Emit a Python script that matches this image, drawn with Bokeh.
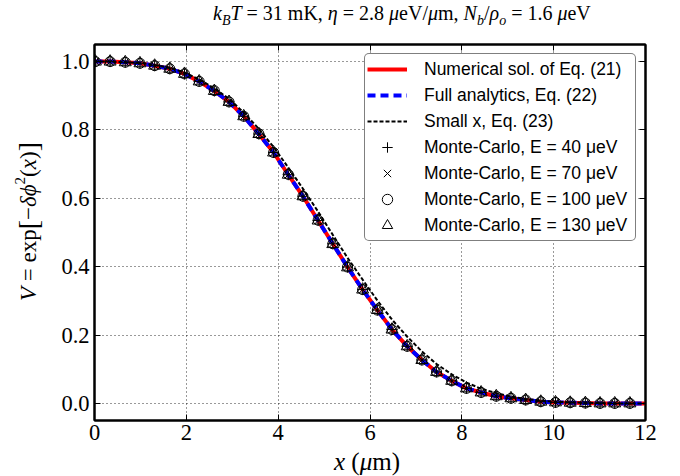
from bokeh.plotting import figure
from bokeh.models import Range1d, FixedTicker, LinearAxis, Div, PrintfTickFormatter
from bokeh.layouts import column, row
from bokeh.embed import file_html
from bokeh.resources import INLINE

# ---------------- data ----------------
x_mc = [0.02, 0.34, 0.67, 0.99, 1.31, 1.64, 1.96, 2.28, 2.61, 2.93,
        3.25, 3.58, 3.90, 4.22, 4.54, 4.87, 5.19, 5.51, 5.84, 6.16,
        6.48, 6.81, 7.13, 7.45, 7.78, 8.10, 8.42, 8.75, 9.07, 9.39,
        9.72, 10.04, 10.36, 10.69, 11.01, 11.33, 11.66]

mc_40 = [1.000, 1.000, 0.998, 0.995, 0.988, 0.979, 0.964, 0.942, 0.914, 0.882,
         0.840, 0.788, 0.734, 0.669, 0.606, 0.535, 0.467, 0.399, 0.333, 0.273,
         0.216, 0.167, 0.127, 0.092, 0.066, 0.044, 0.032, 0.021, 0.015, 0.010,
         0.005, 0.003, 0.002, 0.001, 0.000, 0.000, 0.000]
mc_70 = [1.000, 0.999, 0.998, 0.995, 0.988, 0.978, 0.964, 0.942, 0.914, 0.881,
         0.840, 0.788, 0.733, 0.669, 0.605, 0.535, 0.467, 0.399, 0.333, 0.273,
         0.216, 0.167, 0.127, 0.092, 0.066, 0.044, 0.032, 0.021, 0.015, 0.010,
         0.005, 0.003, 0.002, 0.001, 0.000, 0.000, 0.000]
mc_100 = [1.000, 1.000, 0.998, 0.995, 0.988, 0.979, 0.964, 0.942, 0.915, 0.882,
          0.840, 0.789, 0.734, 0.670, 0.606, 0.536, 0.467, 0.399, 0.333, 0.273,
          0.216, 0.167, 0.127, 0.092, 0.066, 0.044, 0.032, 0.021, 0.015, 0.010,
          0.005, 0.003, 0.002, 0.001, 0.000, 0.000, 0.000]
mc_130 = [1.000, 1.000, 0.998, 0.995, 0.988, 0.979, 0.964, 0.942, 0.914, 0.882,
          0.840, 0.788, 0.734, 0.669, 0.606, 0.535, 0.466, 0.398, 0.333, 0.273,
          0.216, 0.167, 0.127, 0.092, 0.066, 0.044, 0.032, 0.021, 0.015, 0.010,
          0.005, 0.003, 0.002, 0.001, 0.000, 0.000, 0.000]

num_x = [0.0] + x_mc[1:] + [12.0]
num_y = [1.0] + mc_40[1:] + [0.0]
full_x = [0.0] + x_mc[1:] + [12.0]
full_y = [1.0] + mc_40[1:] + [0.0]
small_x = [0.0] + x_mc[1:] + [12.0]
small_y = [1.000, 1.000, 0.998, 0.996, 0.990, 0.982, 0.968, 0.948, 0.922, 0.891,
           0.851, 0.803, 0.750, 0.690, 0.628, 0.561, 0.493, 0.426, 0.362, 0.301,
           0.245, 0.195, 0.152, 0.115, 0.085, 0.061, 0.043, 0.030, 0.020, 0.013,
           0.008, 0.005, 0.003, 0.002, 0.001, 0.000, 0.000, 0.000]

x_ticks = [0, 2, 4, 6, 8, 10, 12]
y_ticks = [0.0, 0.2, 0.4, 0.6, 0.8, 1.0]

SERIF = "Liberation Serif"

# ---------------- figure ----------------
p = figure(width=624, height=412, x_range=Range1d(0, 12), y_range=Range1d(-0.05, 1.05),
           output_backend="svg", toolbar_location=None,
           min_border_left=46, min_border_right=27, min_border_top=6, min_border_bottom=30)
p.background_fill_color = "white"
p.border_fill_color = "white"
p.outline_line_color = "black"
p.outline_line_width = 2

for ax, t in ((p.xaxis[0], x_ticks), (p.yaxis[0], y_ticks)):
    ax.ticker = FixedTicker(ticks=t)
    ax.major_tick_in = 6
    ax.major_tick_out = 0
    ax.minor_tick_in = 0
    ax.minor_tick_out = 0
    ax.axis_line_width = 2
    ax.axis_line_color = "black"
    ax.major_tick_line_color = "black"
    ax.major_tick_line_width = 1
    ax.major_label_text_font = SERIF
    ax.major_label_text_font_size = "22.5px"
    ax.major_label_text_color = "black"
p.yaxis[0].formatter = PrintfTickFormatter(format="%.1f")
p.xaxis[0].formatter = PrintfTickFormatter(format="%d")
p.xaxis.major_label_standoff = 4
p.yaxis.major_label_standoff = 5

for loc, t in (("above", x_ticks), ("right", y_ticks)):
    ax = LinearAxis(ticker=FixedTicker(ticks=t))
    ax.major_tick_in = 6
    ax.major_tick_out = 0
    ax.minor_tick_in = 0
    ax.minor_tick_out = 0
    ax.axis_line_width = 2
    ax.major_label_text_font_size = "0px"
    ax.major_label_text_color = None
    ax.major_label_standoff = 0
    p.add_layout(ax, loc)

p.xgrid.ticker = FixedTicker(ticks=x_ticks)
p.ygrid.ticker = FixedTicker(ticks=y_ticks)
for g in (p.xgrid[0], p.ygrid[0]):
    g.grid_line_color = "black"
    g.grid_line_dash = "1 3"
    g.grid_line_width = 1
    g.grid_line_alpha = 0.8

p.line(num_x, num_y, line_color="red", line_width=4, legend_label="Numerical sol. of Eq. (21)")
p.line(full_x, full_y, line_color="blue", line_width=4, line_dash="8 5",
       legend_label="Full analytics, Eq. (22)")
p.line(small_x, small_y, line_color="black", line_width=2, line_dash="4 2",
       legend_label="Small x, Eq. (23)")

p.scatter(x_mc, mc_40, marker="cross", size=11, line_color="black", fill_color=None,
          line_width=1, legend_label="Monte-Carlo, E = 40 μeV")
p.scatter(x_mc, mc_70, marker="x", size=10, line_color="black", fill_color=None,
          line_width=1, legend_label="Monte-Carlo, E = 70 μeV")
p.scatter(x_mc, mc_100, marker="circle", size=10, line_color="black", fill_color=None,
          line_width=1, legend_label="Monte-Carlo, E = 100 μeV")
p.scatter(x_mc, mc_130, marker="triangle", size=12, line_color="black", fill_color=None,
          line_width=1, legend_label="Monte-Carlo, E = 130 μeV")

lg = p.legend[0]
lg.location = "top_right"
lg.margin = 9
lg.label_text_font = "Liberation Sans"
lg.label_text_font_size = "17.5px"
lg.label_text_color = "black"
lg.glyph_width = 40
lg.glyph_height = 26
lg.label_height = 26
lg.label_width = 209
lg.spacing = 0
lg.padding = 2
lg.label_standoff = 17
lg.border_line_color = "black"
lg.border_line_width = 1.5
lg.background_fill_color = "white"
lg.background_fill_alpha = 1.0
try:
    lg.border_radius = 5
except Exception:
    pass

# ---------------- HTML texts (title / axis labels) ----------------
title_html = (
    '<div style="position:relative; left:213px; top:2px; white-space:nowrap; '
    'font-family:\'Liberation Serif\'; font-size:20px; line-height:22px; color:black;">'
    '<i>k</i><sub style="font-size:14px; line-height:0"><i>B</i></sub><i>T</i> = 31 mK, '
    '<i>η</i> = 2.8 <i>μ</i>eV/<i>μ</i>m, '
    '<i>N</i><sub style="font-size:14px; line-height:0"><i>b</i></sub>/<i>ρ</i>'
    '<sub style="font-size:14px; line-height:0"><i>o</i></sub>'
    ' = 1.6 <i>μ</i>eV</div>'
)
title_div = Div(text=title_html, width=672, height=38, margin=0)

ylab_html = (
    '<div style="width:48px; height:368px; padding-left:10px; box-sizing:border-box; '
    'display:flex; align-items:center; justify-content:center;">'
    '<div style="writing-mode:vertical-rl; transform:rotate(180deg); white-space:nowrap; '
    'font-family:\'Liberation Serif\'; font-size:23px; color:black;">'
    '<i>V</i> = exp<span style="font-size:28px">[</span>−<i>δϕ</i>'
    '<sup style="font-size:15px">2</sup>(<i>x</i>)'
    '<span style="font-size:28px">]</span></div></div>'
)
ylab_div = Div(text=ylab_html, width=48, height=412, margin=0)

xlab_html = (
    '<div style="position:relative; left:334px; top:-1px; white-space:nowrap; '
    'font-family:\'Liberation Serif\'; font-size:25px; line-height:25px; color:black;">'
    '<i>x</i> (<i>μ</i>m)</div>'
)
xlab_div = Div(text=xlab_html, width=672, height=26, margin=0)

layout = column(title_div, row(ylab_div, p, spacing=0), xlab_div, spacing=0)

open("out.html", "w").write(file_html(layout, INLINE))
